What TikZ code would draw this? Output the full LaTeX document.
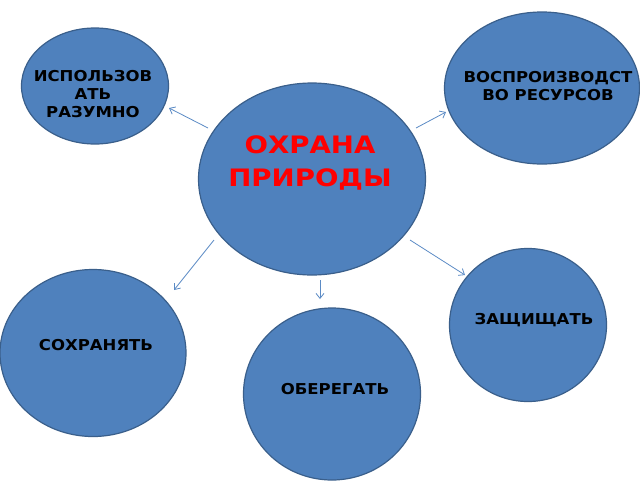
\documentclass[tikz,border=0pt]{standalone}
\usepackage{fontspec}
\setmainfont{DejaVu Sans}
\usetikzlibrary{shapes.geometric,arrows.meta}
\definecolor{bubfill}{HTML}{4F81BD}
\definecolor{bubdraw}{HTML}{3A5F8B}
\definecolor{arr}{HTML}{5B8BC5}
\tikzset{
  bubble/.style={ellipse, draw=bubdraw, fill=bubfill, line width=1.2pt, inner sep=0pt},
  lbl/.style={font=\bfseries\fontsize{15}{18}\selectfont, text=black, align=center, inner sep=0pt, xscale=1.1},
  title/.style={font=\bfseries\fontsize{24}{33}\selectfont, text=red, align=center, inner sep=0pt, xscale=1.15},
  link/.style={draw=arr, line width=0.8pt, -{Straight Barb[length=5pt,width=8pt]}}
}
\begin{document}
\begin{tikzpicture}[x=1pt,y=-1pt]
\useasboundingbox (0,0) rectangle (640,480);
\fill[white] (0,0) rectangle (640,480);
\node[bubble, minimum width=147pt, minimum height=116pt] (isp) at (95,86) {};
\node[bubble, minimum width=195pt, minimum height=152pt] (vos) at (542,88) {};
\node[bubble, minimum width=227pt, minimum height=192pt] (ohr) at (312,179) {};
\node[bubble, minimum width=186pt, minimum height=167pt] (soh) at (93,353) {};
\node[bubble, minimum width=177pt, minimum height=172pt] (obe) at (332,394) {};
\node[bubble, minimum width=157pt, minimum height=153pt] (zas) at (528,325) {};

\node[lbl] (tisp) at (93,94) {ИСПОЛЬЗОВ\\АТЬ\\РАЗУМНО};
\node[lbl] (tvos) at (548,86) {ВОСПРОИЗВОДСТ\\ВО РЕСУРСОВ};
\node[title] (tohr) at (310,163) {ОХРАНА\\ПРИРОДЫ};
\node[lbl] (tsoh) at (96,345) {СОХРАНЯТЬ};
\node[lbl] (tobe) at (335,389) {ОБЕРЕГАТЬ};
\node[lbl] (tzas) at (534,320) {ЗАЩИЩАТЬ};

\coordinate (a1s) at (208,128); \coordinate (a1e) at (169,108);
\coordinate (a2s) at (416,128); \coordinate (a2e) at (446,112);
\coordinate (a3s) at (214,240); \coordinate (a3e) at (174,290);
\coordinate (a4s) at (320,280); \coordinate (a4e) at (320,299);
\coordinate (a5s) at (410,240); \coordinate (a5e) at (465,275);
\draw[link] (a1s) -- (a1e);
\draw[link] (a2s) -- (a2e);
\draw[link] (a3s) -- (a3e);
\draw[link] (a4s) -- (a4e);
\draw[link] (a5s) -- (a5e);
\end{tikzpicture}
\end{document}
